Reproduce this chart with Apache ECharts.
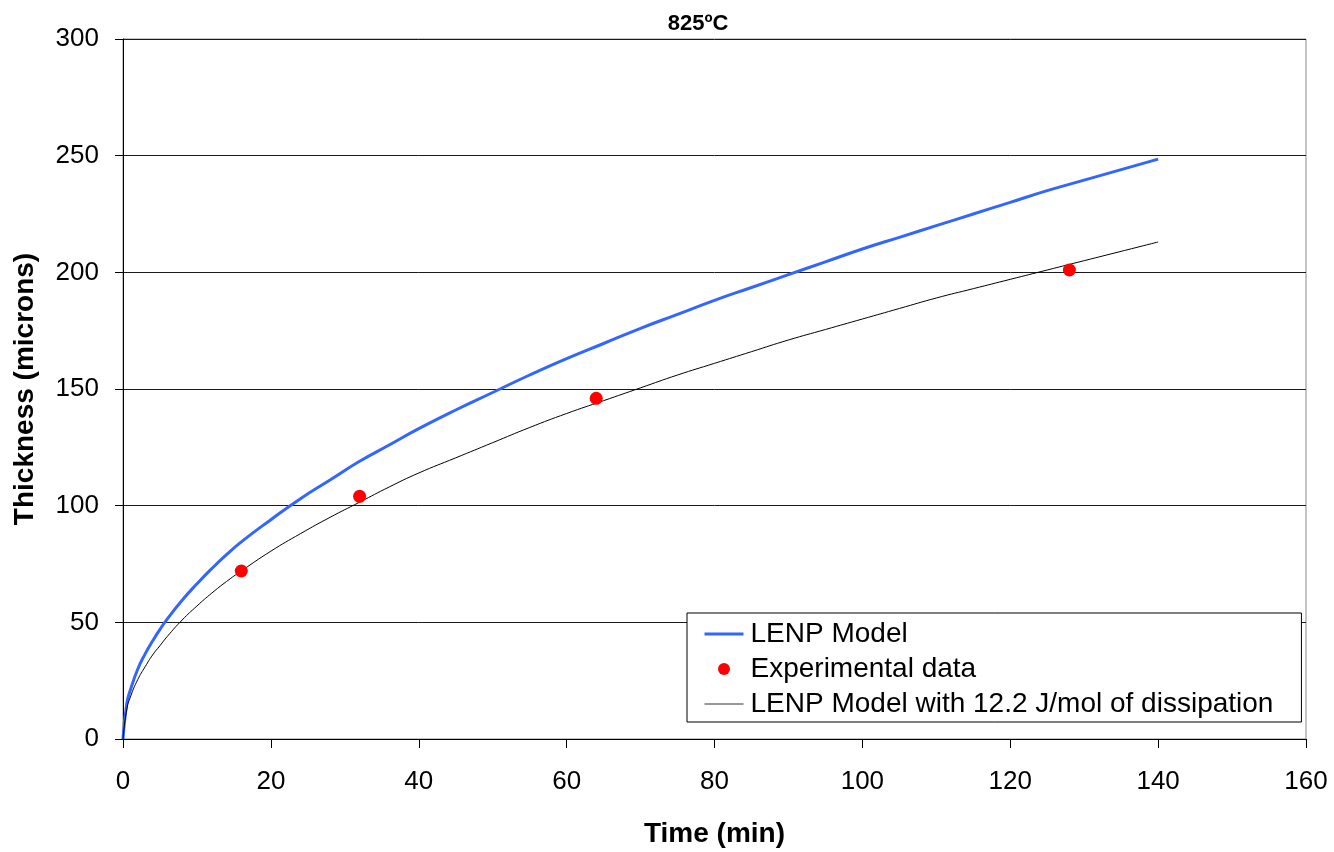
<!DOCTYPE html>
<html>
<head>
<meta charset="utf-8">
<script src="https://cdn.jsdelivr.net/npm/echarts@6/dist/echarts.min.js"></script>
<style>
html,body{margin:0;padding:0;background:#fff;}
#chart{width:1334px;height:852px;}
</style>
</head>
<body>
<div id="chart"></div>
<script>
const timeMin = [0, 0.5, 1, 2, 3, 4, 5, 6, 8, 10, 12, 14, 16, 20, 24, 28, 32, 36, 40, 45, 50, 55, 60, 65, 70, 75, 80, 85, 90, 95, 100, 105, 110, 115, 120, 125, 130, 135, 140];
const lenpModel = [0, 15, 21, 30, 36.5, 42, 47, 51.5, 59.5, 66.5, 73, 79, 84.5, 94, 103, 111, 119, 126, 133, 141, 148.5, 156, 163, 169.5, 176, 182, 188, 193.5, 199, 204.5, 210, 215, 220, 225, 230, 235, 239.5, 244, 248.5];
const lenpDissipation = [0, 12.5, 18, 25.5, 31, 36, 40, 44, 51, 57, 62.5, 67.5, 72, 80.5, 88, 95, 101.5, 108, 114, 120.5, 127, 133.5, 139.5, 145, 150.5, 156, 161, 166, 171, 175.5, 180, 184.5, 189, 193, 197, 201, 205, 209, 213];
const expTime = [16, 32, 64, 128];
const expThickness = [72, 104, 146, 201];
const xTicks = [0, 20, 40, 60, 80, 100, 120, 140, 160];
const yTicks = [0, 50, 100, 150, 200, 250, 300];

const pair = (xs, ys) => xs.map((x, i) => [x, ys[i]]);
const FONT = '"Liberation Sans", Arial, sans-serif';

const chart = echarts.init(document.getElementById('chart'));
chart.setOption({
  backgroundColor: '#fff',
  animation: false,
  title: {
    text: '825ºC',
    left: 693, top: 8,
    textAlign: 'center',
    textStyle: {fontFamily: FONT, fontSize: 22, fontWeight: 'bold', color: '#000'}
  },
  grid: {left: 123, right: 28, top: 39, bottom: 113, containLabel: false, outerBoundsMode: 'none',
         show: true, borderColor: '#8a8a8a', borderWidth: 1, backgroundColor: 'transparent'},
  xAxis: {
    type: 'value',
    min: xTicks[0], max: xTicks[xTicks.length - 1], interval: 20,
    name: 'Time (min)', nameLocation: 'middle', nameGap: 81,
    nameTextStyle: {fontFamily: FONT, fontSize: 28, fontWeight: 'bold', color: '#000'},
    axisLine: {show: true, lineStyle: {color: '#000', width: 1}},
    axisTick: {show: true, length: 9, inside: false, lineStyle: {color: '#000'}},
    axisLabel: {fontFamily: FONT, fontSize: 26, color: '#000', margin: 30},
    splitLine: {show: false}
  },
  yAxis: {
    type: 'value',
    min: yTicks[0], max: yTicks[yTicks.length - 1], interval: 50,
    name: 'Thickness (microns)', nameLocation: 'middle', nameGap: 84, nameRotate: 90,
    nameTextStyle: {fontFamily: FONT, fontSize: 28, fontWeight: 'bold', color: '#000'},
    axisLine: {show: true, lineStyle: {color: '#000', width: 1}},
    axisTick: {show: true, length: 8, inside: false, lineStyle: {color: '#000'}},
    axisLabel: {fontFamily: FONT, fontSize: 26, color: '#000', margin: 24},
    splitLine: {show: true, lineStyle: {color: '#1a1a1a', width: 1}}
  },
  legend: {
    orient: 'vertical',
    left: 687, top: 613,
    padding: [7, 28, 4, 16],
    itemGap: 7,
    itemWidth: 39, itemHeight: 12,
    backgroundColor: '#fff',
    borderColor: '#000', borderWidth: 1,
    textStyle: {fontFamily: FONT, fontSize: 28, color: '#000', lineHeight: 28, padding: [0, 0, 0, 2]},
    data: [
      {name: 'LENP Model', itemStyle: {opacity: 0}, lineStyle: {width: 3, color: '#3366ff'}},
      {name: 'Experimental data', icon: 'circle', itemStyle: {color: '#ff0000', opacity: 1}},
      {name: 'LENP Model with 12.2 J/mol of dissipation', itemStyle: {opacity: 0}, lineStyle: {width: 1, color: '#333'}}
    ]
  },
  series: [
    {
      name: 'LENP Model', type: 'line', data: pair(timeMin, lenpModel),
      symbol: 'none', smooth: true,
      lineStyle: {color: '#3366ff', width: 3}, itemStyle: {color: '#3366ff'}
    },
    {
      name: 'LENP Model with 12.2 J/mol of dissipation', type: 'line', data: pair(timeMin, lenpDissipation),
      symbol: 'none', smooth: true,
      lineStyle: {color: '#000', width: 1}, itemStyle: {color: '#000'}
    },
    {
      name: 'Experimental data', type: 'scatter', data: pair(expTime, expThickness),
      symbol: 'circle', symbolSize: 13,
      itemStyle: {color: '#ff0000', opacity: 1}, z: 5
    }
  ]
});
</script>
</body>
</html>
